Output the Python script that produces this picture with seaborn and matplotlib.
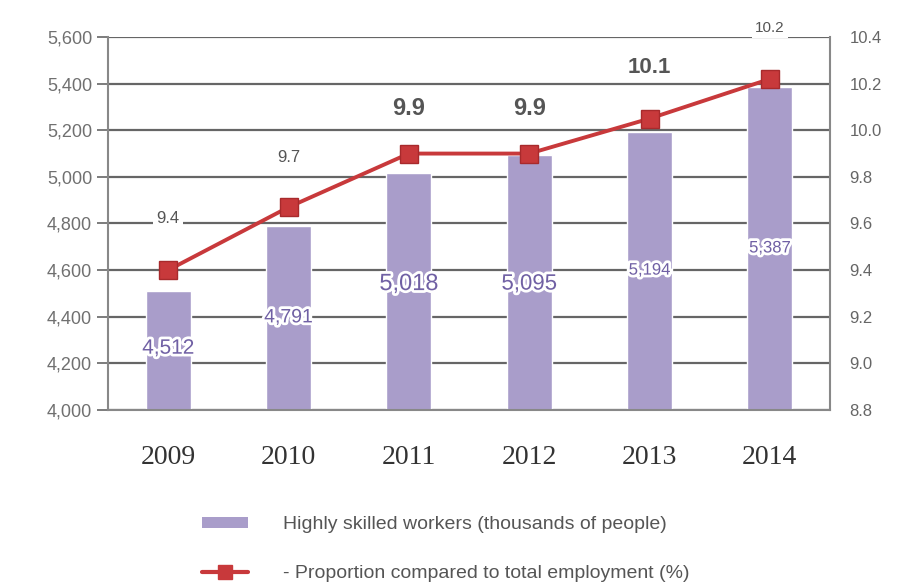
import numpy as np
import pandas as pd
import seaborn as sns
import matplotlib.pyplot as plt
from matplotlib.lines import Line2D
from matplotlib.patches import Patch
import matplotlib.patheffects as pe

years = ["2009", "2010", "2011", "2012", "2013", "2014"]
workers = [4512, 4791, 5018, 5095, 5194, 5387]
proportion = [9.4, 9.67, 9.9, 9.9, 10.05, 10.22]
proportion_labels = ["9.4", "9.7", "9.9", "9.9", "10.1", "10.2"]
left_ticks = [4000, 4200, 4400, 4600, 4800, 5000, 5200, 5400, 5600]
right_ticks = [8.8, 9.0, 9.2, 9.4, 9.6, 9.8, 10.0, 10.2, 10.4]

bar_color = "#a99dca"
line_color = "#c8393b"

sns.set_theme(style="white")
plt.rcParams["font.family"] = ["Liberation Sans", "DejaVu Sans"]

df = pd.DataFrame({"year": years, "workers": workers, "proportion": proportion})

fig = plt.figure(figsize=(9.11, 5.84), dpi=100)
ax = fig.add_axes([0.1186, 0.298, 0.7925, 0.6386])

sns.barplot(data=df, x="year", y="workers", color=bar_color, width=0.375,
            saturation=1, ax=ax, zorder=2)
ax.set_ylim(4000, 5600)
ax.set_xlim(-0.5, 5.5)
ax.set_yticks(left_ticks)
ax.set_yticklabels([f"{t:,}" for t in left_ticks], color="#707070", fontsize=13)
ax.yaxis.grid(True, color="#666666", linewidth=1.6, zorder=0)
ax.set_axisbelow(True)
ax.set_xlabel("")
ax.set_ylabel("")
ax.set_xticks(range(len(years)))
ax.set_xticklabels(years, fontfamily="Liberation Serif", fontsize=20, color="#333333")
ax.tick_params(axis="x", length=0, pad=25)
ax.tick_params(axis="y", length=8, width=1.2, color="#666666", left=True, direction="out")
ax.spines["top"].set_visible(False)
ax.spines["left"].set_color("#888888")
ax.spines["left"].set_linewidth(1.5)
ax.spines["bottom"].set_color("#888888")
ax.spines["bottom"].set_linewidth(1.5)
ax.spines["right"].set_visible(False)

ax2 = ax.twinx()
sns.lineplot(x=np.arange(len(years)), y=proportion, ax=ax2, color=line_color,
             linewidth=2.8, marker="s", markersize=13, markerfacecolor=line_color,
             markeredgecolor="#a82a2c", markeredgewidth=1, zorder=5)
ax2.set_ylim(8.8, 10.4)
ax2.set_yticks(right_ticks)
ax2.set_yticklabels([f"{t:.1f}" for t in right_ticks], color="#666666", fontsize=12)
ax2.tick_params(axis="y", length=0, pad=14)
ax2.spines["right"].set_color("#888888")
ax2.spines["right"].set_linewidth(1.5)
ax2.spines["top"].set_visible(False)
ax2.spines["left"].set_visible(False)
ax2.spines["bottom"].set_visible(False)
ax2.set_xlim(-0.5, 5.5)

# bar value labels
bar_label_y = [4265, 4395, 4540, 4540, 4600, 4695]
bar_label_size = [15, 14, 17, 16, 12, 12]
for i, (v, ly, fs) in enumerate(zip(workers, bar_label_y, bar_label_size)):
    ax.text(i, ly, f"{v:,}", ha="center", va="center", fontsize=fs, color="#7060a4",
            zorder=6,
            path_effects=[pe.withStroke(linewidth=4, foreground="white")])

# line value labels
line_label_y = [9.62, 9.885, 10.095, 10.095, 10.27, 10.44]
line_label_size = [12, 12, 17, 17, 16, 11]
line_label_weight = ["normal", "normal", "bold", "bold", "bold", "normal"]
for i, (t, ly, fs, fw) in enumerate(zip(proportion_labels, line_label_y, line_label_size, line_label_weight)):
    ax2.text(i, ly, t, ha="center", va="center", fontsize=fs, fontweight=fw,
             color="#555555", zorder=6, clip_on=False,
             bbox=dict(boxstyle="square,pad=0.2", fc="white", ec="none"))

# legend below
handles = [Patch(facecolor=bar_color, edgecolor="none"),
           Line2D([0], [0], color=line_color, linewidth=3, marker="s", markersize=10,
                  markerfacecolor=line_color, markeredgecolor=line_color)]
labels = ["Highly skilled workers (thousands of people)",
          "- Proportion compared to total employment (%)"]
fig.legend(handles, labels, loc="upper left", bbox_to_anchor=(0.202, 0.146),
           frameon=False, fontsize=14, labelcolor="#555555", handlelength=2.4,
           handleheight=0.5, labelspacing=1.63, handletextpad=1.8)

fig.savefig("out.png", dpi=100)
